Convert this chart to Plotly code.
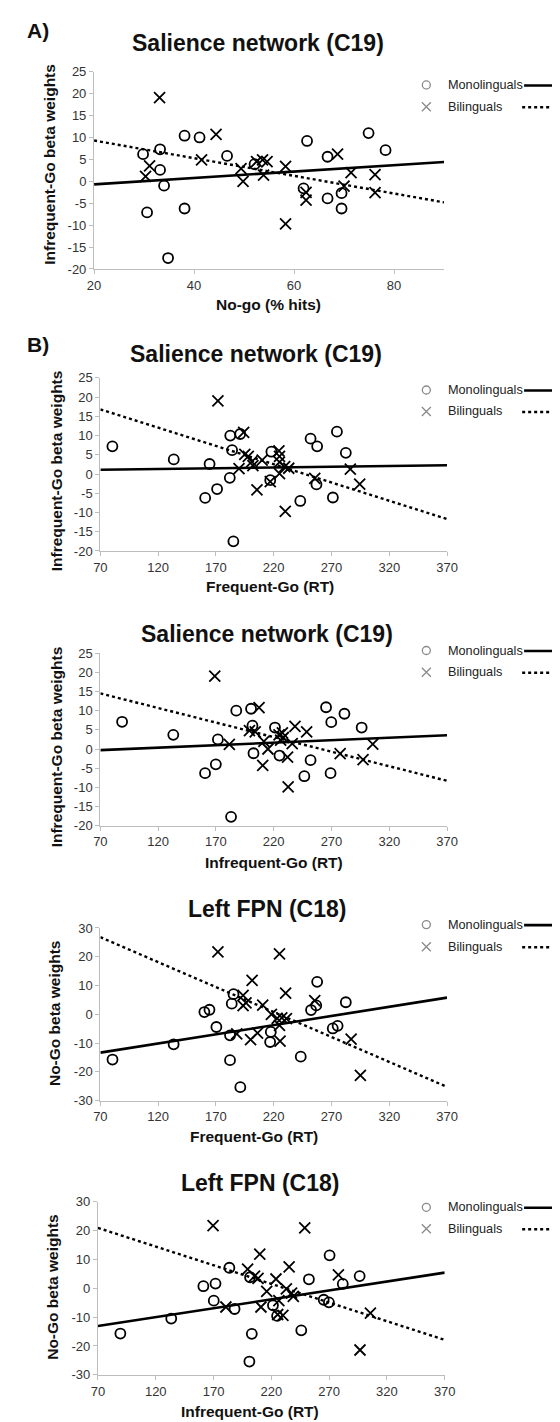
import plotly.graph_objects as go

W, H = 560, 1422

# ---------------- data ----------------
A_mono_x = [29.8, 33.2, 33.2, 34.0, 30.6, 34.8, 38.1, 41.1, 38.1, 46.6, 52.1, 62.6, 61.9, 66.7, 66.7, 69.5, 69.5, 74.9, 78.3]
A_mono_y = [6.2, 7.3, 2.6, -1.0, -7.1, -17.5, 10.4, 10.0, -6.2, 5.8, 3.9, 9.2, -1.6, 5.6, -3.9, -2.7, -6.2, 11.0, 7.1]
A_bil_x = [33.1, 31.1, 30.3, 44.4, 41.5, 49.4, 49.8, 52.5, 53.7, 54.6, 53.9, 58.3, 58.3, 62.4, 62.4, 68.7, 70.0, 71.4, 76.2, 76.2]
A_bil_y = [19.1, 3.5, 1.1, 10.7, 4.9, 2.9, 0.0, 4.5, 4.9, 4.5, 1.4, 3.4, -9.7, -2.5, -4.3, 6.2, -1.1, 2.0, 1.5, -2.6]
A_fit_x = [20, 90]
A_mono_fit = [-0.7, 4.4]
A_bil_fit = [9.3, -4.8]

B1_mono_x = [80.4, 133.5, 164.5, 160.7, 171.0, 182.4, 184.0, 182.0, 185.1, 191.0, 218.0, 217.0, 251.9, 257.6, 257.0, 243.0, 271.2, 274.7, 282.4]
B1_mono_y = [7.2, 3.8, 2.6, -6.2, -3.9, 10.0, 6.2, -1.0, -17.5, 10.4, 5.8, -1.6, 9.2, 7.2, -2.7, -7.0, -6.1, 11.0, 5.5]
B1_bil_x = [171.7, 194.0, 195.0, 198.0, 201.0, 190.0, 202.0, 210.0, 205.5, 217.0, 224.5, 225.0, 225.0, 225.0, 229.5, 230.0, 233.0, 255.5, 286.3, 294.4]
B1_bil_y = [19.0, 10.8, 5.1, 4.6, 3.2, 1.4, 2.2, 3.6, -4.1, -2.0, 6.0, 4.6, 3.1, 0.1, 1.9, -9.7, 1.5, -1.1, 1.3, -2.6]
B1_fit_x = [70, 370]
B1_mono_fit = [1.1, 2.3]
B1_bil_fit = [16.8, -11.7]

B2_mono_x = [88.8, 133.1, 171.7, 160.6, 169.9, 183.1, 187.6, 200.4, 201.6, 202.5, 221.1, 225.0, 246.5, 251.9, 265.3, 269.8, 269.2, 281.2, 296.1]
B2_mono_y = [7.1, 3.7, 2.5, -6.3, -4.0, -17.7, 10.0, 10.5, 6.1, -1.1, 5.6, -1.7, -7.1, -2.9, 10.9, 7.0, -6.3, 9.2, 5.6]
B2_bil_x = [169.0, 207.3, 199.0, 204.0, 181.6, 211.5, 215.0, 210.5, 224.6, 228.3, 226.0, 227.5, 232.0, 232.5, 238.4, 236.0, 248.5, 277.5, 297.3, 305.7]
B2_bil_y = [19.0, 10.8, 4.8, 4.5, 1.2, 2.0, 0.0, -4.3, 3.7, 3.0, 2.3, 4.2, -2.1, -9.9, 5.9, 1.4, 4.5, -1.2, -2.8, 1.3]
B2_fit_x = [70, 370]
B2_mono_fit = [-0.3, 3.6]
B2_bil_fit = [14.5, -8.3]

B3_mono_x = [80.5, 133.4, 160.0, 164.4, 170.4, 185.2, 183.7, 182.2, 182.2, 191.1, 217.5, 216.9, 243.4, 252.3, 256.8, 257.6, 271.1, 275.3, 282.4]
B3_mono_y = [-15.7, -10.4, 0.8, 1.6, -4.4, 7.0, 3.7, -7.3, -15.9, -25.3, -6.1, -9.6, -14.7, 1.5, 3.1, 11.3, -4.9, -4.0, 4.2]
B3_bil_x = [171.7, 225.0, 201.3, 230.3, 193.5, 196.0, 193.5, 210.5, 218.0, 223.0, 227.0, 231.0, 225.0, 225.5, 200.0, 206.0, 188.0, 255.5, 287.0, 295.0]
B3_bil_y = [21.7, 21.0, 11.8, 7.4, 6.6, 4.0, 3.0, 3.2, 0.0, -1.4, -1.2, -1.5, -3.8, -9.3, -8.8, -6.5, -6.8, 4.8, -8.6, -21.2]
B3_fit_x = [70, 370]
B3_mono_fit = [-13.3, 5.8]
B3_bil_fit = [26.8, -25.2]

B4_mono_x = [89.4, 133.4, 161.2, 171.7, 170.2, 183.7, 188.2, 201.6, 203.1, 201.0, 221.4, 225.0, 245.9, 252.5, 265.3, 269.8, 270.4, 281.8, 296.4]
B4_mono_y = [-15.7, -10.5, 0.7, 1.6, -4.3, 7.1, -7.2, 3.8, -15.8, -25.4, -5.9, -9.6, -14.6, 3.1, -4.0, -4.9, 11.4, 1.5, 4.2]
B4_bil_x = [169.6, 248.9, 210.0, 235.4, 199.5, 205.5, 208.5, 224.0, 216.0, 233.0, 237.5, 239.0, 226.5, 211.0, 180.7, 225.5, 230.0, 278.0, 305.7, 296.7]
B4_bil_y = [21.7, 20.9, 11.8, 7.4, 6.6, 4.2, 3.4, 3.2, -1.1, -0.2, -1.7, -2.8, -4.3, -6.5, -6.5, -9.1, -9.4, 4.6, -8.6, -21.4]
B4_fit_x = [70, 370]
B4_mono_fit = [-13.1, 5.4]
B4_bil_fit = [20.9, -17.9]

y_ticks_sal = [25, 20, 15, 10, 5, 0, -5, -10, -15, -20]
y_ticks_fpn = [30, 20, 10, 0, -10, -20, -30]
x_ticks_A = [20, 40, 60, 80]
x_ticks_B = [70, 120, 170, 220, 270, 320, 370]

titles = ["Salience network (C19)", "Salience network (C19)", "Salience network (C19)",
          "Left FPN (C18)", "Left FPN (C18)"]
xtitles = ["No-go (% hits)", "Frequent-Go (RT)", "Infrequent-Go (RT)", "Frequent-Go (RT)", "Infrequent-Go (RT)"]
ytitles = ["Infrequent-Go beta weights", "Infrequent-Go beta weights", "Infrequent-Go beta weights",
           "No-Go beta weights", "No-Go beta weights"]
legend_labels = ["Monolinguals", "Bilinguals"]

# ---------------- layout geometry (pixels) ----------------
def px(x):
    return x / W

def py(y):
    return 1 - y / H

panels = [
    dict(mx=A_mono_x, my=A_mono_y, bx=A_bil_x, by=A_bil_y, fx=A_fit_x, fm=A_mono_fit, fb=A_bil_fit,
         xr=[20, 90], xt=x_ticks_A, yr=[-20, 25], yt=y_ticks_sal,
         box=(81.7, 443.3, 57.3, 256.7), title=(251, 28.5), xtit=(262, 293), ytit=(35.5, 151), leg=(70.7, 92.7)),
    dict(mx=B1_mono_x, my=B1_mono_y, bx=B1_bil_x, by=B1_bil_y, fx=B1_fit_x, fm=B1_mono_fit, fb=B1_bil_fit,
         xr=[70, 370], xt=x_ticks_B, yr=[-20, 25], yt=y_ticks_sal,
         box=(88.2, 446.4, 366.7, 541.7), title=(248.5, 343), xtit=(263, 578), ytit=(43, 460.5), leg=(379, 400.7)),
    dict(mx=B2_mono_x, my=B2_mono_y, bx=B2_bil_x, by=B2_bil_y, fx=B2_fit_x, fm=B2_mono_fit, fb=B2_bil_fit,
         xr=[70, 370], xt=x_ticks_B, yr=[-20, 25], yt=y_ticks_sal,
         box=(88.2, 446.4, 645, 819.3), title=(260.5, 626), xtit=(268, 857), ytit=(43, 739.5), leg=(642.3, 664.3)),
    dict(mx=B3_mono_x, my=B3_mono_y, bx=B3_bil_x, by=B3_bil_y, fx=B3_fit_x, fm=B3_mono_fit, fb=B3_bil_fit,
         xr=[70, 370], xt=x_ticks_B, yr=[-30, 30], yt=y_ticks_fpn,
         box=(88.2, 446.4, 922.7, 1097.3), title=(260, 904), xtit=(247, 1133.5), ytit=(41, 1009), leg=(919.3, 941.7)),
    dict(mx=B4_mono_x, my=B4_mono_y, bx=B4_bil_x, by=B4_bil_y, fx=B4_fit_x, fm=B4_mono_fit, fb=B4_bil_fit,
         xr=[70, 370], xt=x_ticks_B, yr=[-30, 30], yt=y_ticks_fpn,
         box=(85.7, 444.0, 1199.3, 1374.3), title=(253.5, 1180), xtit=(243, 1411.5), ytit=(38.6, 1285), leg=(1205, 1226.7)),
]

FONT = "Liberation Sans, Arial, sans-serif"
fig = go.Figure()
annotations = []
shapes = []

for i, p in enumerate(panels):
    n = "" if i == 0 else str(i + 1)
    xa, ya = "x" + n, "y" + n
    x0, x1, y0, y1 = p["box"]
    fig.add_trace(go.Scatter(x=p["fx"], y=p["fm"], mode="lines", xaxis=xa, yaxis=ya,
                             line=dict(color="black", width=2.6), showlegend=False, hoverinfo="skip"))
    fig.add_trace(go.Scatter(x=p["fx"], y=p["fb"], mode="lines", xaxis=xa, yaxis=ya,
                             line=dict(color="black", width=2.4, dash="dot"), showlegend=False, hoverinfo="skip"))
    fig.add_trace(go.Scatter(x=p["mx"], y=p["my"], mode="markers", xaxis=xa, yaxis=ya, name=legend_labels[0],
                             marker=dict(symbol="circle-open", size=10, color="black", line=dict(width=1.8)),
                             showlegend=False))
    fig.add_trace(go.Scatter(x=p["bx"], y=p["by"], mode="markers", xaxis=xa, yaxis=ya, name=legend_labels[1],
                             marker=dict(symbol="x-thin-open", size=11, color="black", line=dict(width=1.8)),
                             showlegend=False))
    axcommon = dict(showgrid=False, zeroline=False, showline=True, linecolor="#bdbdbd", linewidth=1.2,
                    ticks="outside", ticklen=4, tickcolor="#bdbdbd", tickwidth=1.2,
                    tickfont=dict(family=FONT, size=13, color="#333333"))
    fig.update_layout(**{
        ("xaxis" + n): dict(domain=[px(x0), px(x1)], range=p["xr"], anchor=ya,
                            tickvals=p["xt"], ticktext=[str(v) for v in p["xt"]], **axcommon),
        ("yaxis" + n): dict(domain=[py(y1), py(y0)], range=p["yr"], anchor=xa,
                            tickvals=p["yt"], ticktext=[str(v) for v in p["yt"]], **axcommon),
    })
    tx, ty = p["title"]
    annotations.append(dict(text="<b>%s</b>" % titles[i], x=px(tx), y=py(ty), xref="paper", yref="paper",
                            showarrow=False, xanchor="center", yanchor="middle",
                            font=dict(family=FONT, size=23, color="#111111")))
    ax_, ay_ = p["xtit"]
    annotations.append(dict(text="<b>%s</b>" % xtitles[i], x=px(ax_), y=py(ay_), xref="paper", yref="paper",
                            showarrow=False, xanchor="center", yanchor="middle",
                            font=dict(family=FONT, size=15.5, color="#111111")))
    bx_, by_ = p["ytit"]
    annotations.append(dict(text="<b>%s</b>" % ytitles[i], x=px(bx_), y=py(by_), xref="paper", yref="paper",
                            showarrow=False, xanchor="center", yanchor="middle", textangle=-90,
                            font=dict(family=FONT, size=15.5, color="#111111")))
    # legend
    r1, r2 = p["leg"]
    annotations.append(dict(text=legend_labels[0], x=px(445), y=py(r1), xref="paper", yref="paper",
                            showarrow=False, xanchor="left", yanchor="middle",
                            font=dict(family=FONT, size=12.7, color="#222222")))
    annotations.append(dict(text=legend_labels[1], x=px(445), y=py(r2), xref="paper", yref="paper",
                            showarrow=False, xanchor="left", yanchor="middle",
                            font=dict(family=FONT, size=12.7, color="#222222")))
    shapes.append(dict(type="circle", xref="paper", yref="paper", xsizemode="pixel", ysizemode="pixel",
                       xanchor=px(425), yanchor=py(r1), x0=-4, x1=4, y0=-4, y1=4,
                       line=dict(color="#8a8a8a", width=1.3)))
    shapes.append(dict(type="path", xref="paper", yref="paper", xsizemode="pixel", ysizemode="pixel",
                       xanchor=px(425), yanchor=py(r2), path="M -4.5 -4.5 L 4.5 4.5 M -4.5 4.5 L 4.5 -4.5",
                       line=dict(color="#8a8a8a", width=1.3)))
    shapes.append(dict(type="line", xref="paper", yref="paper", x0=px(526), x1=px(562), y0=py(r1 + 0.5), y1=py(r1 + 0.5),
                       line=dict(color="black", width=2.6)))
    shapes.append(dict(type="line", xref="paper", yref="paper", x0=px(524), x1=px(562), y0=py(r2 + 0.5), y1=py(r2 + 0.5),
                       line=dict(color="black", width=2.4, dash="dot")))

annotations.append(dict(text="<b>A)</b>", x=px(24), y=py(16), xref="paper", yref="paper", showarrow=False,
                        xanchor="center", yanchor="middle", font=dict(family=FONT, size=21, color="#111111")))
annotations.append(dict(text="<b>B)</b>", x=px(24), y=py(333), xref="paper", yref="paper", showarrow=False,
                        xanchor="center", yanchor="middle", font=dict(family=FONT, size=21, color="#111111")))

fig.update_layout(width=W, height=H, margin=dict(l=0, r=0, t=0, b=0), paper_bgcolor="white",
                  plot_bgcolor="white", showlegend=False, annotations=annotations, shapes=shapes)

fig.write_html("out.html")
